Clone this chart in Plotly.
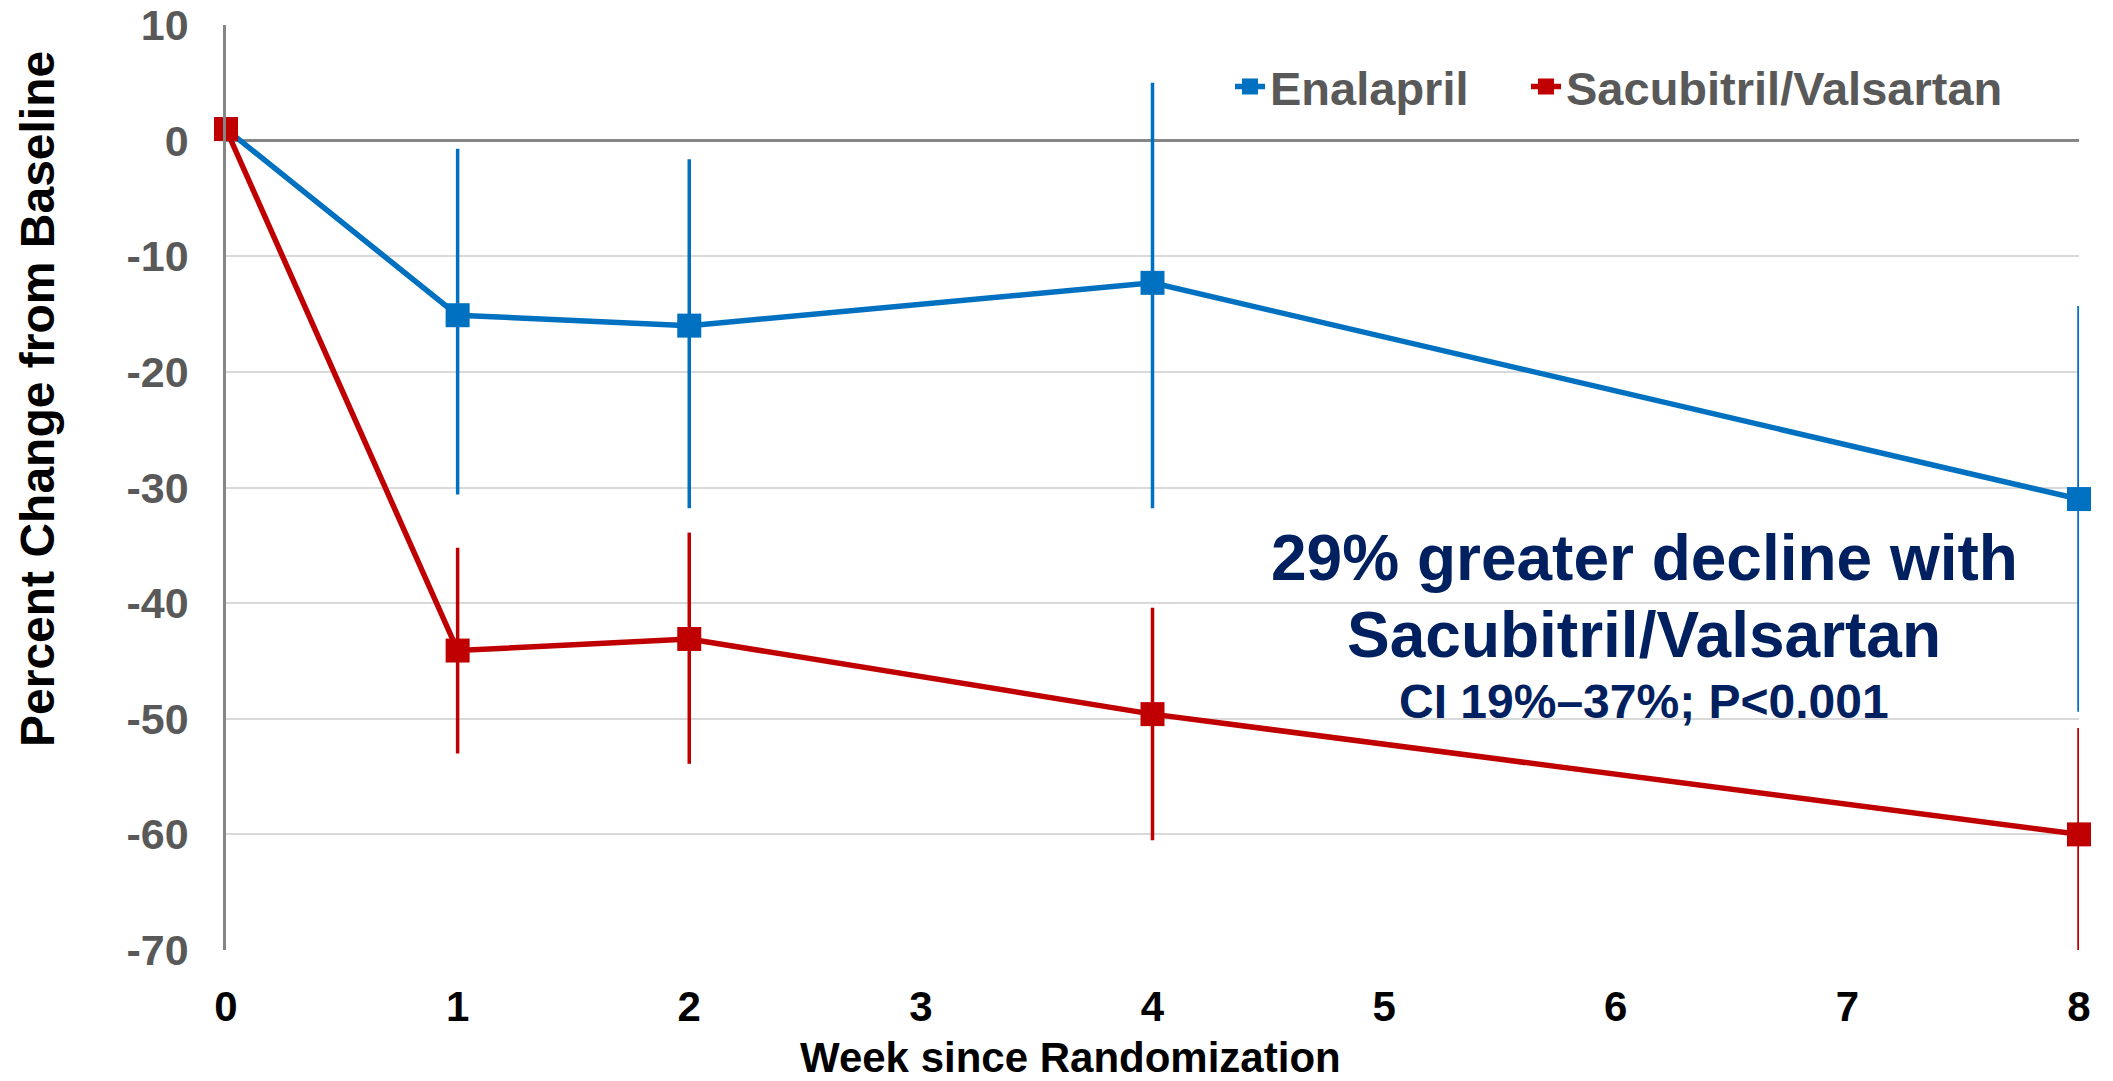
import plotly.graph_objects as go

weeks = [0, 1, 2, 4, 8]
x_tick_vals = [0, 1, 2, 3, 4, 5, 6, 7, 8]
y_tick_vals = [10, 0, -10, -20, -30, -40, -50, -60, -70]
y_tick_text = ["10", "0", "-10", "-20", "-30", "-40", "-50", "-60", "-70"]

enalapril = [1, -15.1, -16.0, -12.3, -31.0]
enalapril_upper = [1, -0.7, -1.6, 5.0, -14.3]
enalapril_lower = [1, -30.6, -31.8, -31.8, -49.4]

sacval = [1, -44.1, -43.1, -49.6, -60.0]
sacval_upper = [1, -35.2, -33.9, -40.4, -50.8]
sacval_lower = [1, -53.0, -53.9, -60.5, -70.3]

series_names = ["Enalapril", "Sacubitril/Valsartan"]
annotation_lines = ["29% greater decline with", "Sacubitril/Valsartan", "CI 19%\u201337%; P<0.001"]
x_title = "Week since Randomization"
y_title = "Percent Change from Baseline"

BLUE = "#0070C0"
RED = "#C00000"
NAVY = "#002060"
GRAY_TXT = "#595959"
FONT = "Liberation Sans, Arial, sans-serif"

fig = go.Figure()


def add_series(name, vals, upper, lower, color, legend):
    fig.add_trace(go.Scatter(
        x=weeks, y=vals, name=name, mode="lines+markers",
        line=dict(color=color, width=5.5),
        marker=dict(symbol="square", size=24, color=color),
        error_y=dict(type="data", symmetric=False,
                     array=[u - v for u, v in zip(upper, vals)],
                     arrayminus=[v - l for v, l in zip(vals, lower)],
                     color=color, thickness=3.5, width=0),
        cliponaxis=False, legend=legend,
    ))


add_series(series_names[0], enalapril, enalapril_upper, enalapril_lower, BLUE, "legend")
add_series(series_names[1], sacval, sacval_upper, sacval_lower, RED, "legend2")

W, H = 2113, 1081
ml, mr, mt, mb = 226, 34, 25, 131
pw, ph = W - ml - mr, H - mt - mb


def px2paper(px, py):
    return (px - ml) / pw, (H - mb - py) / ph


annots = []
for text, size, py in zip(annotation_lines, [64, 64, 48], [558, 635, 701]):
    ax, ay = px2paper(1644, py)
    annots.append(dict(text=f"<b>{text}</b>", x=ax, y=ay, xref="paper", yref="paper",
                       xanchor="center", yanchor="middle", showarrow=False,
                       font=dict(family=FONT, size=size, color=NAVY)))

tx, ty = px2paper(1070, 1057)
annots.append(dict(text=f"<b>{x_title}</b>", x=tx, y=ty, xref="paper", yref="paper",
                   xanchor="center", yanchor="middle", showarrow=False,
                   font=dict(family=FONT, size=42, color="black")))
yx, yy = px2paper(37, 399)
annots.append(dict(text=f"<b>{y_title}</b>", x=yx, y=yy, xref="paper", yref="paper",
                   xanchor="center", yanchor="middle", showarrow=False, textangle=-90,
                   font=dict(family=FONT, size=48, color="black")))

lx1, ly = px2paper(1230, 87)
lx2, _ = px2paper(1526, 87)
legend_font = dict(family=FONT, size=47, color=GRAY_TXT, weight="bold")

fig.update_layout(
    width=W, height=H,
    margin=dict(l=ml, r=mr, t=mt, b=mb, pad=0, autoexpand=False),
    plot_bgcolor="white", paper_bgcolor="white",
    font=dict(family=FONT),
    showlegend=True,
    legend=dict(orientation="h", x=lx1, y=ly, xanchor="left", yanchor="middle",
                bgcolor="rgba(0,0,0,0)", font=legend_font),
    legend2=dict(orientation="h", x=lx2, y=ly, xanchor="left", yanchor="middle",
                 bgcolor="rgba(0,0,0,0)", font=legend_font),
    xaxis=dict(range=[0, 8], tickvals=x_tick_vals, showgrid=False, zeroline=False,
               showline=False, ticks="",
               tickfont=dict(family=FONT, size=42, color="black", weight="bold"),
               ticklabelstandoff=28),
    yaxis=dict(range=[-70, 10], tickvals=y_tick_vals, ticktext=y_tick_text,
               showgrid=True, gridcolor="#D9D9D9", gridwidth=2,
               zeroline=True, zerolinecolor="#868686", zerolinewidth=2.5,
               showline=True, linecolor="#868686", linewidth=2.5, ticks="",
               tickfont=dict(family=FONT, size=43, color=GRAY_TXT, weight="bold"),
               ticklabelstandoff=26),
    annotations=annots,
)

fig.write_html("out.html", config={"displayModeBar": False},
               post_script="document.body.style.margin='0';")
